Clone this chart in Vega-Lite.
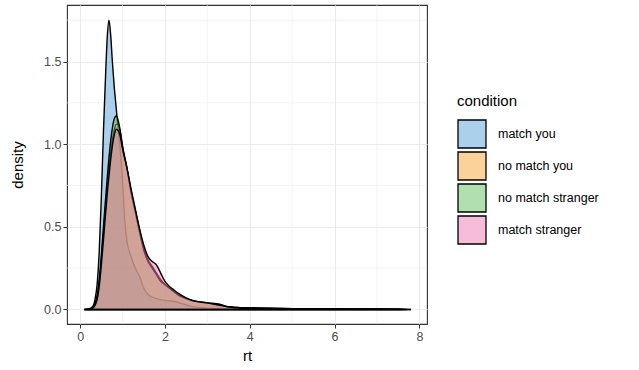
{
  "$schema": "https://vega.github.io/schema/vega-lite/v6.json",
  "width": 360,
  "height": 319,
  "autosize": {"type": "none"},
  "padding": {"left": 67, "top": 5, "right": 212, "bottom": 46},
  "background": "white",
  "config": {
    "font": "Liberation Sans",
    "view": {"stroke": "#333333", "strokeWidth": 1.1},
    "axis": {
      "domain": false,
      "grid": true,
      "gridColor": "#ebebeb",
      "gridWidth": 1.1,
      "tickColor": "#333333",
      "tickSize": 4,
      "tickWidth": 1,
      "labelPadding": 2,
      "labelColor": "#4d4d4d",
      "labelFontSize": 12.5,
      "labelFont": "Liberation Sans",
      "titleFont": "Liberation Sans",
      "titleFontSize": 15,
      "titleFontWeight": "normal",
      "titleColor": "#000000"
    },
    "legend": {
      "titleFont": "Liberation Sans",
      "titleFontSize": 15,
      "titleFontWeight": "normal",
      "titleColor": "#000000",
      "labelFont": "Liberation Sans",
      "labelFontSize": 12.5,
      "labelColor": "#000000",
      "rowPadding": -8
    }
  },
  "datasets": {
    "gridx": [{"v": 1}, {"v": 3}, {"v": 5}, {"v": 7}],
    "gridy": [{"v": 0.25}, {"v": 0.75}, {"v": 1.25}, {"v": 1.75}],
    "match_you": [
      {"condition": "match you", "rt": 0.1, "density": 0},
      {"condition": "match you", "rt": 0.2, "density": 0.003},
      {"condition": "match you", "rt": 0.3, "density": 0.02},
      {"condition": "match you", "rt": 0.35, "density": 0.06},
      {"condition": "match you", "rt": 0.4, "density": 0.15},
      {"condition": "match you", "rt": 0.45, "density": 0.35},
      {"condition": "match you", "rt": 0.5, "density": 0.68},
      {"condition": "match you", "rt": 0.55, "density": 1.08},
      {"condition": "match you", "rt": 0.6, "density": 1.42},
      {"condition": "match you", "rt": 0.64, "density": 1.65},
      {"condition": "match you", "rt": 0.68, "density": 1.75},
      {"condition": "match you", "rt": 0.72, "density": 1.66},
      {"condition": "match you", "rt": 0.76, "density": 1.5},
      {"condition": "match you", "rt": 0.8, "density": 1.36},
      {"condition": "match you", "rt": 0.85, "density": 1.22},
      {"condition": "match you", "rt": 0.9, "density": 1.08},
      {"condition": "match you", "rt": 0.95, "density": 0.95},
      {"condition": "match you", "rt": 1.0, "density": 0.78},
      {"condition": "match you", "rt": 1.05, "density": 0.55},
      {"condition": "match you", "rt": 1.1, "density": 0.42},
      {"condition": "match you", "rt": 1.2, "density": 0.32},
      {"condition": "match you", "rt": 1.3, "density": 0.25},
      {"condition": "match you", "rt": 1.4, "density": 0.2},
      {"condition": "match you", "rt": 1.5, "density": 0.13},
      {"condition": "match you", "rt": 1.6, "density": 0.09},
      {"condition": "match you", "rt": 1.8, "density": 0.065},
      {"condition": "match you", "rt": 2.0, "density": 0.055},
      {"condition": "match you", "rt": 2.2, "density": 0.05},
      {"condition": "match you", "rt": 2.4, "density": 0.035},
      {"condition": "match you", "rt": 2.6, "density": 0.02},
      {"condition": "match you", "rt": 2.8, "density": 0.012},
      {"condition": "match you", "rt": 3.0, "density": 0.008},
      {"condition": "match you", "rt": 3.5, "density": 0.006},
      {"condition": "match you", "rt": 4.0, "density": 0.004},
      {"condition": "match you", "rt": 4.5, "density": 0.003},
      {"condition": "match you", "rt": 5.0, "density": 0.002},
      {"condition": "match you", "rt": 6.0, "density": 0.001},
      {"condition": "match you", "rt": 7.0, "density": 0.001},
      {"condition": "match you", "rt": 7.6, "density": 0}
    ],
    "no_match_you": [
      {"condition": "no match you", "rt": 0.1, "density": 0},
      {"condition": "no match you", "rt": 0.2, "density": 0.002},
      {"condition": "no match you", "rt": 0.3, "density": 0.01},
      {"condition": "no match you", "rt": 0.35, "density": 0.03},
      {"condition": "no match you", "rt": 0.4, "density": 0.07},
      {"condition": "no match you", "rt": 0.45, "density": 0.16},
      {"condition": "no match you", "rt": 0.5, "density": 0.3},
      {"condition": "no match you", "rt": 0.55, "density": 0.46},
      {"condition": "no match you", "rt": 0.6, "density": 0.62},
      {"condition": "no match you", "rt": 0.65, "density": 0.77},
      {"condition": "no match you", "rt": 0.7, "density": 0.9},
      {"condition": "no match you", "rt": 0.75, "density": 1.01},
      {"condition": "no match you", "rt": 0.8, "density": 1.08},
      {"condition": "no match you", "rt": 0.85, "density": 1.12},
      {"condition": "no match you", "rt": 0.9, "density": 1.12},
      {"condition": "no match you", "rt": 0.95, "density": 1.07},
      {"condition": "no match you", "rt": 1.0, "density": 0.99},
      {"condition": "no match you", "rt": 1.1, "density": 0.86},
      {"condition": "no match you", "rt": 1.2, "density": 0.72},
      {"condition": "no match you", "rt": 1.3, "density": 0.6},
      {"condition": "no match you", "rt": 1.4, "density": 0.48},
      {"condition": "no match you", "rt": 1.5, "density": 0.37},
      {"condition": "no match you", "rt": 1.6, "density": 0.3},
      {"condition": "no match you", "rt": 1.7, "density": 0.26},
      {"condition": "no match you", "rt": 1.8, "density": 0.22},
      {"condition": "no match you", "rt": 1.9, "density": 0.18},
      {"condition": "no match you", "rt": 2.0, "density": 0.15},
      {"condition": "no match you", "rt": 2.1, "density": 0.13},
      {"condition": "no match you", "rt": 2.2, "density": 0.11},
      {"condition": "no match you", "rt": 2.3, "density": 0.09},
      {"condition": "no match you", "rt": 2.5, "density": 0.065},
      {"condition": "no match you", "rt": 2.7, "density": 0.05},
      {"condition": "no match you", "rt": 3.0, "density": 0.04},
      {"condition": "no match you", "rt": 3.3, "density": 0.03},
      {"condition": "no match you", "rt": 3.5, "density": 0.015},
      {"condition": "no match you", "rt": 3.7, "density": 0.012},
      {"condition": "no match you", "rt": 4.0, "density": 0.01},
      {"condition": "no match you", "rt": 4.5, "density": 0.007},
      {"condition": "no match you", "rt": 5.0, "density": 0.005},
      {"condition": "no match you", "rt": 5.5, "density": 0.004},
      {"condition": "no match you", "rt": 6.0, "density": 0.004},
      {"condition": "no match you", "rt": 6.5, "density": 0.003},
      {"condition": "no match you", "rt": 7.0, "density": 0.003},
      {"condition": "no match you", "rt": 7.5, "density": 0.002},
      {"condition": "no match you", "rt": 7.8, "density": 0}
    ],
    "no_match_stranger": [
      {"condition": "no match stranger", "rt": 0.1, "density": 0},
      {"condition": "no match stranger", "rt": 0.2, "density": 0.002},
      {"condition": "no match stranger", "rt": 0.3, "density": 0.012},
      {"condition": "no match stranger", "rt": 0.35, "density": 0.035},
      {"condition": "no match stranger", "rt": 0.4, "density": 0.08},
      {"condition": "no match stranger", "rt": 0.45, "density": 0.18},
      {"condition": "no match stranger", "rt": 0.5, "density": 0.33},
      {"condition": "no match stranger", "rt": 0.55, "density": 0.5},
      {"condition": "no match stranger", "rt": 0.6, "density": 0.67},
      {"condition": "no match stranger", "rt": 0.65, "density": 0.83},
      {"condition": "no match stranger", "rt": 0.7, "density": 0.97},
      {"condition": "no match stranger", "rt": 0.75, "density": 1.08},
      {"condition": "no match stranger", "rt": 0.8, "density": 1.15},
      {"condition": "no match stranger", "rt": 0.85, "density": 1.17},
      {"condition": "no match stranger", "rt": 0.9, "density": 1.14},
      {"condition": "no match stranger", "rt": 0.95, "density": 1.07},
      {"condition": "no match stranger", "rt": 1.0, "density": 0.98},
      {"condition": "no match stranger", "rt": 1.1, "density": 0.86},
      {"condition": "no match stranger", "rt": 1.2, "density": 0.71},
      {"condition": "no match stranger", "rt": 1.3, "density": 0.59},
      {"condition": "no match stranger", "rt": 1.4, "density": 0.47},
      {"condition": "no match stranger", "rt": 1.5, "density": 0.36},
      {"condition": "no match stranger", "rt": 1.6, "density": 0.29},
      {"condition": "no match stranger", "rt": 1.7, "density": 0.25},
      {"condition": "no match stranger", "rt": 1.8, "density": 0.21},
      {"condition": "no match stranger", "rt": 1.9, "density": 0.17},
      {"condition": "no match stranger", "rt": 2.0, "density": 0.15},
      {"condition": "no match stranger", "rt": 2.1, "density": 0.13},
      {"condition": "no match stranger", "rt": 2.2, "density": 0.11},
      {"condition": "no match stranger", "rt": 2.3, "density": 0.09},
      {"condition": "no match stranger", "rt": 2.5, "density": 0.065},
      {"condition": "no match stranger", "rt": 2.7, "density": 0.05},
      {"condition": "no match stranger", "rt": 3.0, "density": 0.038},
      {"condition": "no match stranger", "rt": 3.3, "density": 0.03},
      {"condition": "no match stranger", "rt": 3.5, "density": 0.016},
      {"condition": "no match stranger", "rt": 3.7, "density": 0.012},
      {"condition": "no match stranger", "rt": 4.0, "density": 0.01},
      {"condition": "no match stranger", "rt": 4.5, "density": 0.006},
      {"condition": "no match stranger", "rt": 5.0, "density": 0.005},
      {"condition": "no match stranger", "rt": 5.5, "density": 0.003},
      {"condition": "no match stranger", "rt": 6.0, "density": 0.004},
      {"condition": "no match stranger", "rt": 6.5, "density": 0.002},
      {"condition": "no match stranger", "rt": 7.0, "density": 0.003},
      {"condition": "no match stranger", "rt": 7.5, "density": 0.002},
      {"condition": "no match stranger", "rt": 7.8, "density": 0}
    ],
    "match_stranger": [
      {"condition": "match stranger", "rt": 0.1, "density": 0},
      {"condition": "match stranger", "rt": 0.2, "density": 0.002},
      {"condition": "match stranger", "rt": 0.3, "density": 0.01},
      {"condition": "match stranger", "rt": 0.35, "density": 0.025},
      {"condition": "match stranger", "rt": 0.4, "density": 0.06},
      {"condition": "match stranger", "rt": 0.45, "density": 0.14},
      {"condition": "match stranger", "rt": 0.5, "density": 0.27},
      {"condition": "match stranger", "rt": 0.55, "density": 0.42},
      {"condition": "match stranger", "rt": 0.6, "density": 0.58},
      {"condition": "match stranger", "rt": 0.65, "density": 0.73},
      {"condition": "match stranger", "rt": 0.7, "density": 0.86},
      {"condition": "match stranger", "rt": 0.75, "density": 0.97},
      {"condition": "match stranger", "rt": 0.8, "density": 1.05},
      {"condition": "match stranger", "rt": 0.85, "density": 1.09},
      {"condition": "match stranger", "rt": 0.9, "density": 1.08},
      {"condition": "match stranger", "rt": 0.95, "density": 1.04},
      {"condition": "match stranger", "rt": 1.0, "density": 0.97},
      {"condition": "match stranger", "rt": 1.1, "density": 0.86},
      {"condition": "match stranger", "rt": 1.2, "density": 0.73},
      {"condition": "match stranger", "rt": 1.3, "density": 0.61},
      {"condition": "match stranger", "rt": 1.4, "density": 0.49},
      {"condition": "match stranger", "rt": 1.5, "density": 0.39},
      {"condition": "match stranger", "rt": 1.6, "density": 0.32},
      {"condition": "match stranger", "rt": 1.7, "density": 0.29},
      {"condition": "match stranger", "rt": 1.8, "density": 0.27},
      {"condition": "match stranger", "rt": 1.9, "density": 0.22},
      {"condition": "match stranger", "rt": 2.0, "density": 0.17},
      {"condition": "match stranger", "rt": 2.1, "density": 0.14},
      {"condition": "match stranger", "rt": 2.2, "density": 0.12},
      {"condition": "match stranger", "rt": 2.3, "density": 0.1},
      {"condition": "match stranger", "rt": 2.5, "density": 0.07},
      {"condition": "match stranger", "rt": 2.7, "density": 0.05},
      {"condition": "match stranger", "rt": 3.0, "density": 0.04},
      {"condition": "match stranger", "rt": 3.3, "density": 0.025},
      {"condition": "match stranger", "rt": 3.5, "density": 0.015},
      {"condition": "match stranger", "rt": 3.7, "density": 0.01},
      {"condition": "match stranger", "rt": 4.0, "density": 0.008},
      {"condition": "match stranger", "rt": 4.5, "density": 0.006},
      {"condition": "match stranger", "rt": 5.0, "density": 0.004},
      {"condition": "match stranger", "rt": 5.5, "density": 0.003},
      {"condition": "match stranger", "rt": 6.0, "density": 0.003},
      {"condition": "match stranger", "rt": 6.5, "density": 0.002},
      {"condition": "match stranger", "rt": 7.0, "density": 0.002},
      {"condition": "match stranger", "rt": 7.5, "density": 0.001},
      {"condition": "match stranger", "rt": 7.7, "density": 0}
    ]
  },
  "layer": [
    {
      "data": {"name": "gridx"},
      "mark": {"type": "rule", "color": "#ebebeb", "strokeWidth": 0.6},
      "encoding": {"x": {"field": "v", "type": "quantitative", "scale": {"domain": [-0.31, 8.18], "nice": false, "zero": false}}}
    },
    {
      "data": {"name": "gridy"},
      "mark": {"type": "rule", "color": "#ebebeb", "strokeWidth": 0.6},
      "encoding": {"y": {"field": "v", "type": "quantitative", "scale": {"domain": [-0.088, 1.842], "nice": false, "zero": false}}}
    },
    {
      "data": {"name": "match_you"},
      "mark": {"type": "area", "interpolate": "monotone", "fillOpacity": 0.5, "stroke": "black", "strokeWidth": 1.4},
      "encoding": {
        "x": {"field": "rt", "type": "quantitative", "title": "rt", "scale": {"domain": [-0.31, 8.18], "nice": false, "zero": false}, "axis": {"values": [0, 2, 4, 6, 8], "titlePadding": 6}},
        "y": {"field": "density", "type": "quantitative", "title": "density", "stack": null, "scale": {"domain": [-0.088, 1.842], "nice": false, "zero": false}, "axis": {"values": [0, 0.5, 1, 1.5], "format": ".1f", "titlePadding": 18}},
        "fill": {"field": "condition", "type": "nominal", "title": "condition",
          "scale": {"domain": ["match you", "no match you", "no match stranger", "match stranger"], "range": ["#57a1d9", "#f9a537", "#65bf61", "#ef7bb1"]},
          "legend": {"orient": "none", "legendX": 390, "legendY": 89, "symbolType": "square", "symbolSize": 784, "symbolStrokeColor": "black", "symbolStrokeWidth": 1.3, "rowPadding": -8, "labelOffset": 11, "titlePadding": 10,
            "encode": {"symbols": {"update": {"fillOpacity": {"value": 0.5}, "strokeOpacity": {"value": 1}, "opacity": {"value": 1}}}}}
        }
      }
    },
    {
      "data": {"name": "no_match_you"},
      "mark": {"type": "area", "interpolate": "monotone", "fillOpacity": 0.5, "stroke": "black", "strokeWidth": 1.4},
      "encoding": {
        "x": {"field": "rt", "type": "quantitative"},
        "y": {"field": "density", "type": "quantitative", "stack": null},
        "fill": {"field": "condition", "type": "nominal"}
      }
    },
    {
      "data": {"name": "no_match_stranger"},
      "mark": {"type": "area", "interpolate": "monotone", "fillOpacity": 0.5, "stroke": "black", "strokeWidth": 1.4},
      "encoding": {
        "x": {"field": "rt", "type": "quantitative"},
        "y": {"field": "density", "type": "quantitative", "stack": null},
        "fill": {"field": "condition", "type": "nominal"}
      }
    },
    {
      "data": {"name": "match_stranger"},
      "mark": {"type": "area", "interpolate": "monotone", "fillOpacity": 0.5, "stroke": "black", "strokeWidth": 1.4},
      "encoding": {
        "x": {"field": "rt", "type": "quantitative"},
        "y": {"field": "density", "type": "quantitative", "stack": null},
        "fill": {"field": "condition", "type": "nominal"}
      }
    }
  ]
}
